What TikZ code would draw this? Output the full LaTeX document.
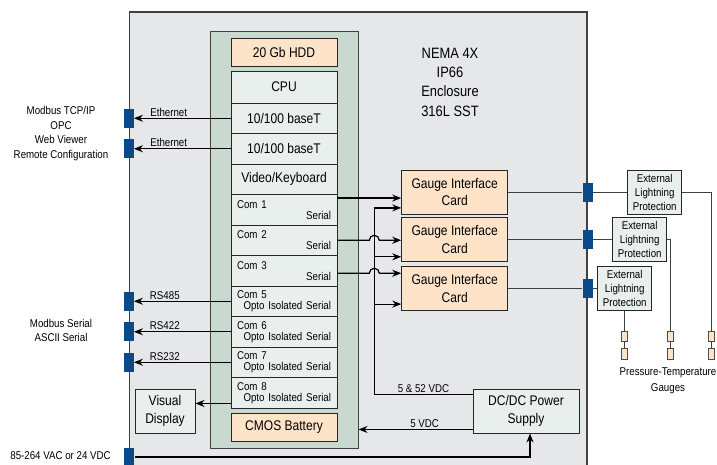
\documentclass[tikz,border=0pt]{standalone}
\usepackage{fontspec}
\setmainfont{Liberation Sans}[FakeStretch=0.86]
\usepackage{tikz}
\usetikzlibrary{
    arrows.meta,
    calc
}
\usepackage{xcolor}
\definecolor{enclgray}{HTML}{E6E7E8}
\definecolor{boardgreen}{HTML}{C9D9D0}
\definecolor{slotfill}{HTML}{E9EFEC}
\definecolor{peach}{HTML}{FDE4C9}
\definecolor{portblue}{HTML}{0A4A8A}
\newcommand{\smallfnt}{\fontsize{11.3}{14.2}\selectfont}
\newcommand{\comfnt}{\fontsize{11.3}{11}\selectfont}
\newcommand{\mainfnt}{\fontsize{14}{17.5}\selectfont}
\newcommand{\bigfnt}{\fontsize{15}{19.3}\selectfont}

\begin{document}
\begin{tikzpicture}[
        x=1pt, y=-1pt,
        >={Stealth[length=9pt,width=7pt]},
        wire/.style={line width=1.2pt},
        thinwire/.style={line width=0.9pt, draw=black!75},
        enclosure/.style={
            draw=black!75,
            fill=enclgray,
            line width=1.2pt,
            inner sep=0pt
        },
        board/.style={
            draw=black!75,
            fill=boardgreen,
            line width=1pt,
            inner sep=0pt
        },
        slot/.style={
            draw=black!85,
            fill=slotfill,
            line width=0.9pt,
            minimum width=106pt,
            minimum height=30.5pt,
            inner sep=0pt,
            align=center,
            font=\mainfnt
        },
        comslot/.style={
            slot,
            text width=94pt,
            align=left,
            font=\comfnt
        },
        card/.style={
            slot,
            fill=peach,
            minimum height=43.5pt
        },
        lightning/.style={
            slot,
            minimum width=54pt,
            minimum height=43.5pt,
            font=\smallfnt
        },
        port/.style={
            fill=portblue,
            minimum width=10pt,
            minimum height=19pt,
            inner sep=0pt
        },
        gauge/.style={
            draw=black!70,
            fill=peach,
            line width=0.7pt,
            minimum width=6pt,
            minimum height=10.5pt,
            inner sep=0pt
        },
        note/.style={
            font=\smallfnt,
            align=center,
            inner sep=1.5pt
        }
    ]
    \useasboundingbox (0,0) rectangle (717,464);

    % enclosure and computer
    \node[enclosure, minimum width=457.7pt, minimum height=460pt] (encl) at (358.15,242) {};
    \node[board, minimum width=147.3pt, minimum height=416.3pt] (board) at (284.35,239.85) {};
    \node[font=\bigfnt, align=center] (nema) at (450,82) {NEMA 4X\\IP66\\Enclosure\\316L SST};

    \node[slot, fill=peach, minimum height=28.7pt] (hdd) at (284,52.3) {20 Gb HDD};
    \node[slot, minimum height=32pt] (cpu) at (284,87) {CPU};
    \node[slot] (eth1) at (284,118.25) {10/100 baseT};
    \node[slot] (eth2) at (284,148.75) {10/100 baseT};
    \node[slot] (video) at (284,179.25) {Video/Keyboard};
    \node[comslot] (com1) at (284,209.75) {Com 1\\\hspace*{\fill}Serial};
    \node[comslot] (com2) at (284,240.25) {Com 2\\\hspace*{\fill}Serial};
    \node[comslot] (com3) at (284,270.75) {Com 3\\\hspace*{\fill}Serial};
    \node[comslot] (com5) at (284,301.25) {Com 5\\\hspace*{\fill}Opto Isolated Serial};
    \node[comslot] (com6) at (284,331.75) {Com 6\\\hspace*{\fill}Opto Isolated Serial};
    \node[comslot] (com7) at (284,362.25) {Com 7\\\hspace*{\fill}Opto Isolated Serial};
    \node[comslot] (com8) at (284,392.75) {Com 8\\\hspace*{\fill}Opto Isolated Serial};
    \node[slot, fill=peach, minimum height=28.7pt] (cmos) at (284,427.3) {CMOS Battery};

    \node[slot, minimum width=60pt, minimum height=44pt] (disp) at (165,411) {Visual\\Display};
    \node[slot, minimum height=44pt, font=\fontsize{14}{18}\selectfont] (dcdc) at (526,411) {DC/DC Power\\Supply};

    \node[card] (card1) at (454.7,192.2) {Gauge Interface\\Card};
    \node[card] (card2) at (454.7,239.6) {Gauge Interface\\Card};
    \node[card] (card3) at (454.7,288.4) {Gauge Interface\\Card};

    % outside world
    \node[note, font=\fontsize{11.3}{14.4}\selectfont] (tcpip) at (61,133.5) {Modbus TCP/IP\\OPC\\Web Viewer\\Remote Configuration};
    \node[note, font=\fontsize{11.3}{14}\selectfont] (mbser) at (61,330) {Modbus Serial\\ASCII Serial};
    \node[note] (acin) at (60.5,456) {85-264 VAC or 24 VDC};

    \node[lightning] (lp1) at (654.7,192.2) {External\\Lightning\\Protection};
    \node[lightning] (lp2) at (639.7,239.6) {External\\Lightning\\Protection};
    \node[lightning] (lp3) at (624.7,288.4) {External\\Lightning\\Protection};

    \node[gauge] (g1a) at (624.7,336.4) {};
    \node[gauge] (g1b) at (624.7,353.7) {};
    \node[gauge] (g2a) at (670,336.4) {};
    \node[gauge] (g2b) at (670,353.7) {};
    \node[gauge] (g3a) at (711,336.4) {};
    \node[gauge] (g3b) at (711,353.7) {};
    \node[note, font=\fontsize{11.3}{15.6}\selectfont] (ptg) at (668,381) {Pressure-Temperature\\Gauges};

    % ports in the enclosure wall
    \node[port] (lan1) at (eth1.west -| encl.west) {};
    \node[port] (lan2) at (eth2.west -| encl.west) {};
    \node[port] (rs485) at (com5.west -| encl.west) {};
    \node[port] (rs422) at (com6.west -| encl.west) {};
    \node[port] (rs232) at (com7.west -| encl.west) {};
    \node[port] (pwrin) at (129.3,457) {};
    \node[port] (gp1) at (card1.east -| encl.east) {};
    \node[port] (gp2) at (card2.east -| encl.east) {};
    \node[port] (gp3) at (card3.east -| encl.east) {};

    % left side connections
    \draw[wire,->] (eth1.west) -- node[note,above,pos=0.64]{Ethernet} (eth1.west -| lan1.east);
    \draw[wire,->] (eth2.west) -- node[note,above,pos=0.64]{Ethernet} (eth2.west -| lan2.east);
    \draw[wire,->] (com5.west) -- node[note,above,pos=0.68]{RS485} (com5.west -| rs485.east);
    \draw[wire,->] (com6.west) -- node[note,above,pos=0.68]{RS422} (com6.west -| rs422.east);
    \draw[wire,->] (com7.west) -- node[note,above,pos=0.68]{RS232} (com7.west -| rs232.east);
    \coordinate (vd) at ([yshift=5pt]com8.south west);
    \draw[wire,->] (vd) -- (vd -| disp.east);

    % serial lines to gauge cards
    \coordinate (rail) at (374.3,395);
    \coordinate (s1) at ([yshift=-4pt]com1.north east);
    \coordinate (s3) at ([yshift=-2.5pt]com3.east);
    \draw[wire,->] (s1) -- (s1 -| card1.west);
    \draw[wire,->] (com2.east) -- ($(rail |- com2.east)+(-5,0)$)
        arc[start angle=180, end angle=0, radius=5pt] -- (com2.east -| card2.west);
    \draw[wire,->] (s3) -- ($(rail |- s3)+(-5,0)$)
        arc[start angle=180, end angle=0, radius=5pt] -- (s3 -| card3.west);

    % power
    \coordinate (v52) at ([yshift=-6pt]dcdc.north west);
    \coordinate (v5) at ([yshift=4pt]dcdc.south west);
    \coordinate (in1) at ([yshift=6.5pt]card1.south west);
    \coordinate (in2) at ([yshift=5pt]card2.south west);
    \coordinate (in3) at ([yshift=6.5pt]card3.south west);
    \draw[wire,->] (v52) -- node[note,above]{5 \& 52 VDC} (v52 -| rail) |- (in1);
    \draw[wire,->] (rail |- in2) -- (in2);
    \draw[wire,->] (rail |- in3) -- (in3);
    \draw[wire,->] (v5) -- node[note,above,pos=0.42]{5 VDC} (v5 -| board.east);
    \draw[wire,->] (pwrin.east) -| ([xshift=4pt]dcdc.south);

    % field side
    \draw[thinwire] (card1.east) -- (gp1.west);
    \draw[thinwire] (card2.east) -- (gp2.west);
    \draw[thinwire] (card3.east) -- (gp3.west);
    \draw[thinwire] (gp1.east) -- (lp1.west);
    \draw[thinwire] (gp2.east) -- (lp2.west);
    \draw[thinwire] (gp3.east) -- (lp3.west);
    \draw[thinwire] (lp1.east) -| (g3a.north);
    \draw[thinwire] (lp2.east) -| (g2a.north);
    \draw[thinwire] (lp3.south) -- (g1a.north);
    \draw[thinwire] (g1a) -- (g1b);
    \draw[thinwire] (g2a) -- (g2b);
    \draw[thinwire] (g3a) -- (g3b);
\end{tikzpicture}
\end{document}
